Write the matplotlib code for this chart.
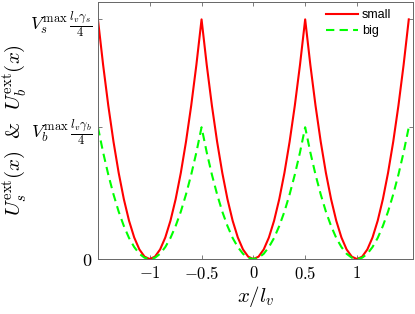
import matplotlib
matplotlib.use("Agg")
import matplotlib.pyplot as plt

plt.rcParams['mathtext.fontset'] = 'cm'
plt.rcParams['font.family'] = ['Liberation Sans', 'DejaVu Sans']

# positions x / l_v
x_pos = [-1.5, -1.45, -1.4, -1.35, -1.3, -1.25, -1.2, -1.15, -1.1, -1.05,
         -1.0, -0.95, -0.9, -0.85, -0.8, -0.75, -0.7, -0.65, -0.6, -0.55,
         -0.5, -0.45, -0.4, -0.35, -0.3, -0.25, -0.2, -0.15, -0.1, -0.05,
         0.0, 0.05, 0.1, 0.15, 0.2, 0.25, 0.3, 0.35, 0.4, 0.45,
         0.5, 0.55, 0.6, 0.65, 0.7, 0.75, 0.8, 0.85, 0.9, 0.95,
         1.0, 1.05, 1.1, 1.15, 1.2, 1.25, 1.3, 1.35, 1.4, 1.45, 1.5]

# small particle potential (peak = V_s^max l_v gamma_s / 4)
u_small = [1.0, 0.81, 0.64, 0.49, 0.36, 0.25, 0.16, 0.09, 0.04, 0.01,
           0.0, 0.01, 0.04, 0.09, 0.16, 0.25, 0.36, 0.49, 0.64, 0.81,
           1.0, 0.81, 0.64, 0.49, 0.36, 0.25, 0.16, 0.09, 0.04, 0.01,
           0.0, 0.01, 0.04, 0.09, 0.16, 0.25, 0.36, 0.49, 0.64, 0.81,
           1.0, 0.81, 0.64, 0.49, 0.36, 0.25, 0.16, 0.09, 0.04, 0.01,
           0.0, 0.01, 0.04, 0.09, 0.16, 0.25, 0.36, 0.49, 0.64, 0.81, 1.0]

# big particle potential (peak = V_b^max l_v gamma_b / 4)
u_big = [0.55, 0.445, 0.352, 0.27, 0.198, 0.138, 0.088, 0.05, 0.022, 0.0055,
         0.0, 0.0055, 0.022, 0.05, 0.088, 0.138, 0.198, 0.27, 0.352, 0.445,
         0.55, 0.445, 0.352, 0.27, 0.198, 0.138, 0.088, 0.05, 0.022, 0.0055,
         0.0, 0.0055, 0.022, 0.05, 0.088, 0.138, 0.198, 0.27, 0.352, 0.445,
         0.55, 0.445, 0.352, 0.27, 0.198, 0.138, 0.088, 0.05, 0.022, 0.0055,
         0.0, 0.0055, 0.022, 0.05, 0.088, 0.138, 0.198, 0.27, 0.352, 0.445, 0.55]

xticks = [-1, -0.5, 0, 0.5, 1]
xtick_labels = [r'$-1$', r'$-0.5$', r'$0$', r'$0.5$', r'$1$']
yticks = [0, 0.55, 1.0]
ytick_labels = [r'$0$', r'$V_b^{\max}\,\frac{l_v\gamma_b}{4}$',
                r'$V_s^{\max}\,\frac{l_v\gamma_s}{4}$']

fig = plt.figure(figsize=(4.15, 3.14), dpi=100)
ax = fig.add_axes([0.236, 0.175, 0.759, 0.819])

ax.plot(x_pos, u_small, color=(1, 0, 0), lw=1.5, label='small')
ax.plot(x_pos, u_big, color=(0, 1, 0), lw=1.5, ls=(0, (4, 2.5)), label='big')

ax.set_xlim(-1.5, 1.54)
ax.set_ylim(0, 1.073)
ax.set_xticks(xticks)
ax.set_xticklabels(xtick_labels, fontsize=12)
ax.set_yticks(yticks)
ax.set_yticklabels(ytick_labels, fontsize=13)
ax.tick_params(direction='in', length=3, width=0.6, top=True, right=True,
               color='0.4', pad=4)
for s in ax.spines.values():
    s.set_color('0.4')
    s.set_linewidth(0.7)

ax.set_xlabel(r'$x/l_v$', fontsize=15, labelpad=2)
ax.set_ylabel(r'$U_s^{\mathrm{ext}}(x)\ \ &\ \ U_b^{\mathrm{ext}}(x)$', fontsize=15, labelpad=1)

ax.legend(loc='upper right', bbox_to_anchor=(0.955, 1.0), frameon=False,
          fontsize=9, handlelength=2.6, borderaxespad=0.2, labelspacing=0.3,
          handletextpad=0.3)

fig.savefig('out.png', dpi=100)
